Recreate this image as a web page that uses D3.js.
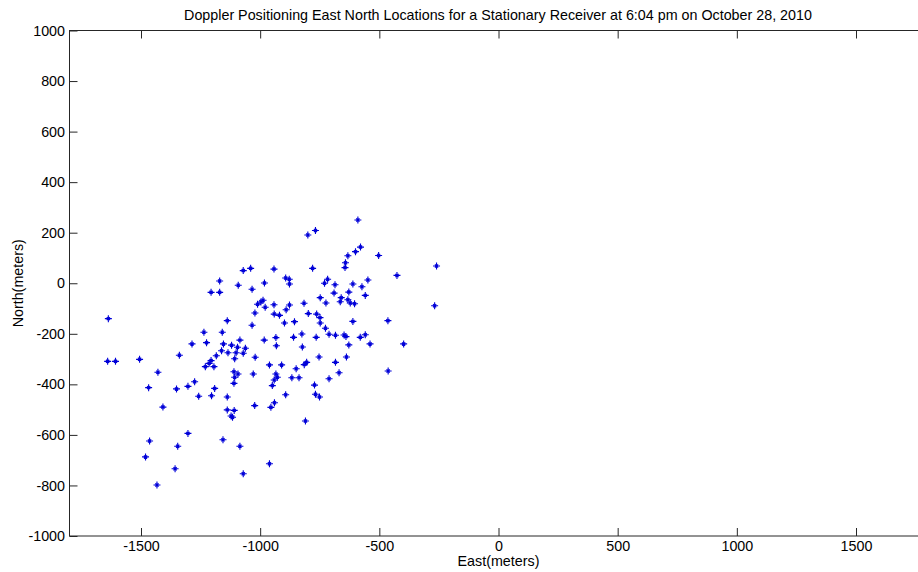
<!DOCTYPE html>
<html>
<head>
<meta charset="utf-8">
<script src="https://cdn.jsdelivr.net/npm/d3@7/dist/d3.min.js"></script>
<style>
  html, body { margin: 0; padding: 0; background: #fff; }
  svg { display: block; font-family: Arial, "Liberation Sans", sans-serif; }
</style>
</head>
<body>
<svg id="chart" width="918" height="572"></svg>
<script>
// Doppler position fixes (East, North) in meters
const east = [
  -1637, -1640, -1607, -1506, -1481, -1464, -1468, -1429, -1433, -1408,
  -1357, -1346, -1351, -1339, -1303, -1303, -1286, -1275, -1258, -1236,
  -1230, -1225, -1214, -1206, -1206, -1204, -1194, -1191, -1184, -1170,
  -1170, -1162, -1159, -1156, -1154, -1138, -1138, -1138, -1135, -1122,
  -1116, -1120, -1110, -1110, -1107, -1107, -1109, -1101, -1095, -1093,
  -1092, -1085, -1085, -1071, -1071, -1071, -1062, -1040, -1034, -1034,
  -1029, -1023, -1022, -1021, -1011, -997, -988, -983, -982, -979,
  -961, -961, -955, -949, -942, -942, -941, -941, -940, -934,
  -934, -932, -928, -919, -910, -898, -893, -893, -891, -878,
  -877, -877, -867, -860, -856, -849, -837, -825, -823, -816,
  -815, -810, -805, -800, -798, -780, -772, -768, -768, -765,
  -763, -753, -751, -749, -748, -748, -730, -724, -726, -717,
  -711, -711, -690, -686, -684, -684, -669, -664, -660, -648,
  -644, -642, -640, -638, -632, -632, -628, -628, -622, -611,
  -611, -604, -600, -590, -580, -579, -573, -559, -559, -548,
  -539, -503, -464, -463, -426, -398, -268, -260
];
const north = [
  -140, -309, -309, -301, -687, -624, -413, -352, -798, -490,
  -734, -645, -418, -285, -408, -594, -240, -390, -447, -194,
  -330, -235, -317, -306, -36, -445, -330, -416, -287, 9,
  -36, -267, -194, -619, -240, -148, -450, -501, -275, -525,
  -530, -245, -350, -396, -299, -372, -503, -275, -253, -359,
  -8, -225, -645, 50, -277, -754, -257, 59, -24, -166,
  -359, -484, -118, -293, -83, -74, -67, -225, 1, -95,
  -323, -714, -491, -405, 56, -85, -122, -383, -473, -215,
  -359, -247, -372, -127, -323, -157, 21, -441, -105, 16,
  -3, -86, -374, -214, -152, -338, -374, -201, -252, -79,
  -322, -545, -313, 191, -120, 59, -403, 209, -439, -214,
  -122, -292, -450, -136, -57, -157, 0, -78, -178, 16,
  -202, -378, -39, -6, -206, -313, -354, -73, -57, -205,
  62, 81, -211, -292, 109, -65, -35, -244, -78, -3,
  -151, -81, 125, 250, -214, 143, -14, -48, -204, 13,
  -240, 110, -148, -347, 31, -240, -89, 68
];

const xTicks = [-1500, -1000, -500, 0, 500, 1000, 1500];
const yTicks = [-1000, -800, -600, -400, -200, 0, 200, 400, 600, 800, 1000];
const xDomain = [-1800, 1800];
const yDomain = [-1000, 1000];

const titleText = "Doppler Positioning East North Locations for a Stationary Receiver at 6:04 pm on October 28, 2010";
const xLabel = "East(meters)";
const yLabel = "North(meters)";

const svg = d3.select("#chart");
const box = { left: 69.5, right: 927.5, top: 30.5, bottom: 536 };

const x = d3.scaleLinear().domain(xDomain).range([box.left, box.right]);
const y = d3.scaleLinear().domain(yDomain).range([box.bottom, box.top]);

const axisColor = "#262626";
const fontSize = 14.3;
const tickLen = 8;

const g = svg.append("g");

// plot box
g.append("rect")
  .attr("x", box.left).attr("y", box.top)
  .attr("width", box.right - box.left).attr("height", box.bottom - box.top)
  .attr("fill", "none").attr("stroke", axisColor).attr("stroke-width", 1);

// axes with inward ticks, mirrored on all four sides
function styleAxis(sel, showLabels) {
  sel.select(".domain").remove();
  sel.selectAll(".tick line").attr("stroke", axisColor).attr("stroke-width", 1);
  sel.selectAll(".tick text")
    .attr("fill", "#000")
    .attr("font-size", fontSize)
    .attr("font-family", "Arial, 'Liberation Sans', sans-serif");
  if (!showLabels) sel.selectAll(".tick text").remove();
}

const fmt = d => String(d);

const xAxisB = d3.axisBottom(x).tickValues(xTicks).tickSizeInner(-tickLen).tickSizeOuter(0).tickPadding(5).tickFormat(fmt);
g.append("g").attr("transform", `translate(0,${box.bottom})`).call(xAxisB).call(s => styleAxis(s, true));

const xAxisT = d3.axisTop(x).tickValues(xTicks).tickSizeInner(-tickLen).tickSizeOuter(0);
g.append("g").attr("transform", `translate(0,${box.top})`).call(xAxisT).call(s => styleAxis(s, false));

const yAxisL = d3.axisLeft(y).tickValues(yTicks).tickSizeInner(-tickLen).tickSizeOuter(0).tickPadding(4.5).tickFormat(fmt);
g.append("g").attr("transform", `translate(${box.left},0)`).call(yAxisL).call(s => styleAxis(s, true));

const yAxisR = d3.axisRight(y).tickValues(yTicks).tickSizeInner(-tickLen).tickSizeOuter(0);
g.append("g").attr("transform", `translate(${box.right},0)`).call(yAxisR).call(s => styleAxis(s, false));

// star markers: strong plus with short diagonals
const star = "M-3.5,0H3.5M0,-3.5V3.5M-1.6,-1.6L1.6,1.6M-1.6,1.6L1.6,-1.6";
const pts = east.map((e, i) => ({ e, n: north[i] }));
g.append("g").selectAll("path")
  .data(pts)
  .join("path")
  .attr("transform", d => `translate(${x(d.e)},${y(d.n)})`)
  .attr("d", star)
  .attr("fill", "none")
  .attr("stroke", "#0000d8")
  .attr("stroke-width", 1.1);

// title and axis labels
svg.append("text")
  .attr("x", (box.left + box.right) / 2 - 0.5).attr("y", 20)
  .attr("text-anchor", "middle")
  .attr("font-size", fontSize).attr("fill", "#000")
  .text(titleText);

svg.append("text")
  .attr("x", x(0)).attr("y", 566)
  .attr("text-anchor", "middle")
  .attr("font-size", fontSize).attr("fill", "#000")
  .text(xLabel);

svg.append("text")
  .attr("transform", `translate(23,${y(0)}) rotate(-90)`)
  .attr("text-anchor", "middle")
  .attr("font-size", fontSize).attr("fill", "#000")
  .text(yLabel);
</script>
</body>
</html>
